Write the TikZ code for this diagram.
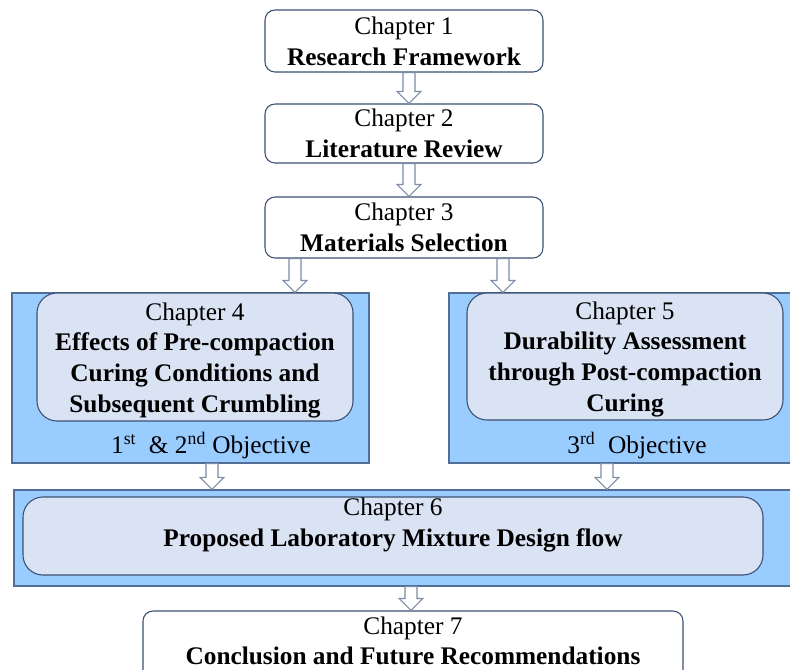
\documentclass[tikz,border=0pt]{standalone}
\usepackage{fontspec}
\setmainfont{Liberation Serif}
\usetikzlibrary{calc}

\definecolor{boxline}{RGB}{60,80,115}
\definecolor{panelline}{RGB}{80,110,150}
\definecolor{panelfill}{RGB}{153,204,255}
\definecolor{innerfill}{RGB}{218,227,243}
\definecolor{arrowline}{RGB}{125,140,168}

\tikzset{
  txt/.style={align=center, inner sep=0pt, font=\fontsize{19}{23}\selectfont},
  span/.style 2 args={minimum width={#1*0.75pt}, minimum height={#2*0.75pt}},
  chap/.style={txt, draw=boxline, fill=white, rounded corners=7.5pt, line width=0.8pt},
  panel/.style={draw=panelline, fill=panelfill, line width=0.8pt, inner sep=0pt},
  inbox/.style={txt, draw=boxline, fill=innerfill, rounded corners=15pt, line width=0.8pt},
  hollow/.style={draw=arrowline, fill=white, line width=0.8pt,
    to path={let \p1=(\tikztostart), \p2=(\tikztotarget) in
      (\x1-4.5pt,\y1) -- (\x1-4.5pt,\y2+9pt) -- (\x1-9pt,\y2+9pt) -- (\x1,\y2)
      -- (\x1+9pt,\y2+9pt) -- (\x1+4.5pt,\y2+9pt) -- (\x1+4.5pt,\y1) -- cycle}}
}

\begin{document}
\begin{tikzpicture}[x=0.75pt,y=-0.75pt]
\useasboundingbox (0,0) rectangle (790,669);

% first three chapters
\node[chap, span={278}{62}] (ch1) at (404,41) {Chapter 1\\\textbf{Research Framework}};
\node[chap, span={278}{59}] (ch2) at (404,133.5) {Chapter 2\\\textbf{Literature Review}};
\node[chap, span={278}{61}] (ch3) at (404,227.5) {Chapter 3\\\textbf{Materials Selection}};

% objective panels
\node[panel, span={357}{170}] (p4) at (190.5,378) {};
\node[inbox, span={316}{128}] (ch4) at (195,357) {};
\node[txt] (ch4text) at (195,360) {Chapter 4\\\textbf{Effects of Pre-compaction}\\\textbf{Curing Conditions and}\\\textbf{Subsequent Crumbling}};
\node[txt, anchor=base] (obj4) at (211,453) {1\textsuperscript{st}~ \& 2\textsuperscript{nd} Objective};

\node[panel, span={351}{170}] (p5) at (624.5,378) {};
\node[inbox, span={316}{127}] (ch5) at (625,356.5) {};
\node[txt] (ch5text) at (625,359) {Chapter 5\\\textbf{Durability Assessment}\\\textbf{through Post-compaction}\\\textbf{Curing}};
\node[txt, anchor=base] (obj5) at (637,453) {3\textsuperscript{rd}~ Objective};

% design flow
\node[panel, span={786}{96}] (p6) at (407,538) {};
\node[inbox, span={740}{78}] (ch6) at (393,536) {};
\node[txt] (ch6text) at (393,525) {Chapter 6\\\textbf{Proposed Laboratory Mixture Design flow}};

% conclusion
\node[chap, span={540}{110}] (ch7) at (413,666) {};
\node[txt] (ch7text) at (413,641) {Chapter 7\\\textbf{Conclusion and Future Recommendations}};

% hollow arrows
\draw[hollow] (ch1.south -| 409,0) to (ch2.north -| 409,0);
\draw[hollow] (ch2.south -| 409,0) to (ch3.north -| 409,0);
\draw[hollow] (ch3.south -| 295,0) to (p4.north -| 295,0);
\draw[hollow] (ch3.south -| 503,0) to (p5.north -| 503,0);
\draw[hollow] (p4.south -| 212,0) to (p6.north -| 212,0);
\draw[hollow] (p5.south -| 607,0) to (p6.north -| 607,0);
\draw[hollow] (p6.south -| 411,0) to (ch7.north -| 411,0);
\end{tikzpicture}
\end{document}
